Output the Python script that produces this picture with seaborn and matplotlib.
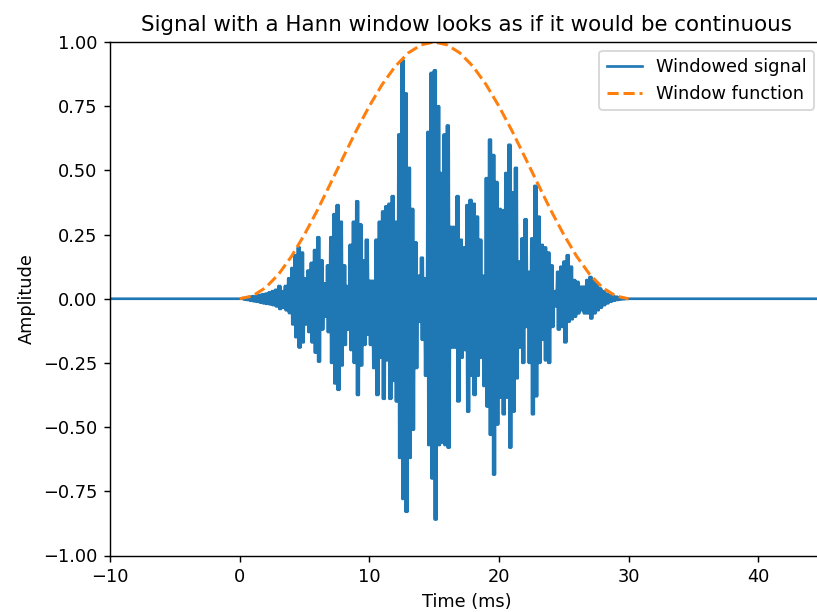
import numpy as np
import pandas as pd
import matplotlib
matplotlib.use("Agg")
import matplotlib.pyplot as plt
import seaborn as sns

# ---- data ----
# envelope sample grid (ms) inside the window
env_t = np.arange(0, 30.001, 0.25)
# upper peaks of the windowed signal per 0.25 ms cell
env_hi = [
    0.000, 0.003, 0.005, 0.008,
    0.010, 0.012, 0.015, 0.018,
    0.020, 0.025, 0.030, 0.035,
    0.050, 0.030, 0.050, 0.080,
    0.120, 0.170, 0.200, 0.180,
    0.080, 0.110, 0.140, 0.190,
    0.240, 0.150, 0.060, 0.130,
    0.240, 0.330, 0.365, 0.300,
    0.130, 0.050, 0.210, 0.300,
    0.380, 0.290, 0.150, 0.230,
    0.070, 0.070, 0.230, 0.300,
    0.340, 0.360, 0.370, 0.400,
    0.300, 0.640, 0.930, 0.800,
    0.510, 0.350, 0.220, 0.090,
    0.160, 0.080, 0.650, 0.880,
    0.890, 0.750, 0.490, 0.640,
    0.675, 0.280, 0.280, 0.400,
    0.230, 0.200, 0.365, 0.385,
    0.370, 0.320, 0.230, 0.090,
    0.470, 0.620, 0.560, 0.455,
    0.350, 0.345, 0.490, 0.600,
    0.415, 0.510, 0.145, 0.235,
    0.310, 0.105, 0.235, 0.440,
    0.320, 0.210, 0.200, 0.180,
    0.130, 0.030, 0.105, 0.125,
    0.145, 0.170, 0.125, 0.073,
    0.066, 0.047, 0.047, 0.073,
    0.085, 0.073, 0.060, 0.040,
    0.030, 0.020, 0.014, 0.010,
    0.008, 0.005, 0.003, 0.001,
    0.000,
]
# lower peaks of the windowed signal per 0.25 ms cell
env_lo = [
    0.000, -0.003, -0.005, -0.008,
    -0.010, -0.012, -0.015, -0.018,
    -0.020, -0.022, -0.025, -0.030,
    -0.040, -0.035, -0.045, -0.056,
    -0.100, -0.150, -0.190, -0.170,
    -0.100, -0.130, -0.170, -0.210,
    -0.245, -0.120, -0.070, -0.130,
    -0.250, -0.330, -0.355, -0.260,
    -0.180, -0.120, -0.200, -0.250,
    -0.375, -0.260, -0.180, -0.140,
    -0.180, -0.270, -0.375, -0.230,
    -0.390, -0.240, -0.390, -0.320,
    -0.400, -0.620, -0.780, -0.830,
    -0.620, -0.510, -0.270, -0.090,
    -0.160, -0.300, -0.570, -0.700,
    -0.860, -0.570, -0.560, -0.570,
    -0.580, -0.190, -0.190, -0.400,
    -0.230, -0.200, -0.440, -0.300,
    -0.375, -0.300, -0.230, -0.340,
    -0.420, -0.530, -0.685, -0.490,
    -0.385, -0.450, -0.385, -0.580,
    -0.440, -0.310, -0.190, -0.250,
    -0.110, -0.250, -0.450, -0.380,
    -0.250, -0.160, -0.240, -0.250,
    -0.110, -0.030, -0.120, -0.110,
    -0.170, -0.090, -0.080, -0.070,
    -0.057, -0.045, -0.057, -0.057,
    -0.077, -0.057, -0.045, -0.035,
    -0.025, -0.018, -0.012, -0.008,
    -0.005, -0.003, -0.002, -0.001,
    0.000,
]
# window function read at 1 ms steps
win_t = list(range(0, 31))
win_v = [0.000, 0.011, 0.043, 0.095, 0.165, 0.250, 0.345, 0.448, 0.552, 0.655,
         0.750, 0.835, 0.905, 0.957, 0.989, 1.000, 0.989, 0.957, 0.905, 0.835,
         0.750, 0.655, 0.552, 0.448, 0.345, 0.250, 0.165, 0.095, 0.043, 0.011,
         0.000]
# zero signal outside the window
t_start, t_end = -10.0, 45.0

# ---- assemble the signal from the read peaks (alternating max/min) ----
sig_t = [t_start]
sig_v = [0.0]
for t, hi, lo in zip(env_t, env_hi, env_lo):
    sig_t += [t, t + 0.0625, t + 0.125, t + 0.1875]
    sig_v += [hi, lo, hi, lo]
sig_t.append(t_end)
sig_v.append(0.0)
sig_df = pd.DataFrame({"t": sig_t, "v": sig_v})
win_df = pd.DataFrame({"t": win_t, "v": win_v})

dpi = 128
fig = plt.figure(figsize=(817 / dpi, 612 / dpi), dpi=dpi)
ax = fig.add_axes([110 / 817, 1 - 555.5 / 612, (823 - 110) / 817, (555.5 - 42) / 612])

sns.lineplot(data=sig_df, x="t", y="v", ax=ax, estimator=None, sort=False,
             color="#1f77b4", linewidth=1.5, label="Windowed signal")
sns.lineplot(data=win_df, x="t", y="v", ax=ax, estimator=None, sort=False,
             color="#ff7f0e", linewidth=1.7, linestyle="--", label="Window function")

ax.set_xlim(t_start, t_end)
ax.set_ylim(-1, 1)
ax.set_xticks([-10, 0, 10, 20, 30, 40])
ax.set_yticks([-1, -0.75, -0.5, -0.25, 0, 0.25, 0.5, 0.75, 1.0])
ax.set_yticklabels(["\u22121.00", "\u22120.75", "\u22120.50", "\u22120.25", "0.00",
                    "0.25", "0.50", "0.75", "1.00"])
ax.set_xlabel("Time (ms)")
ax.set_ylabel("Amplitude")
ax.set_title("Signal with a Hann window looks as if it would be continuous")
ax.legend(loc="upper right")

fig.savefig("out.png", dpi=dpi)
